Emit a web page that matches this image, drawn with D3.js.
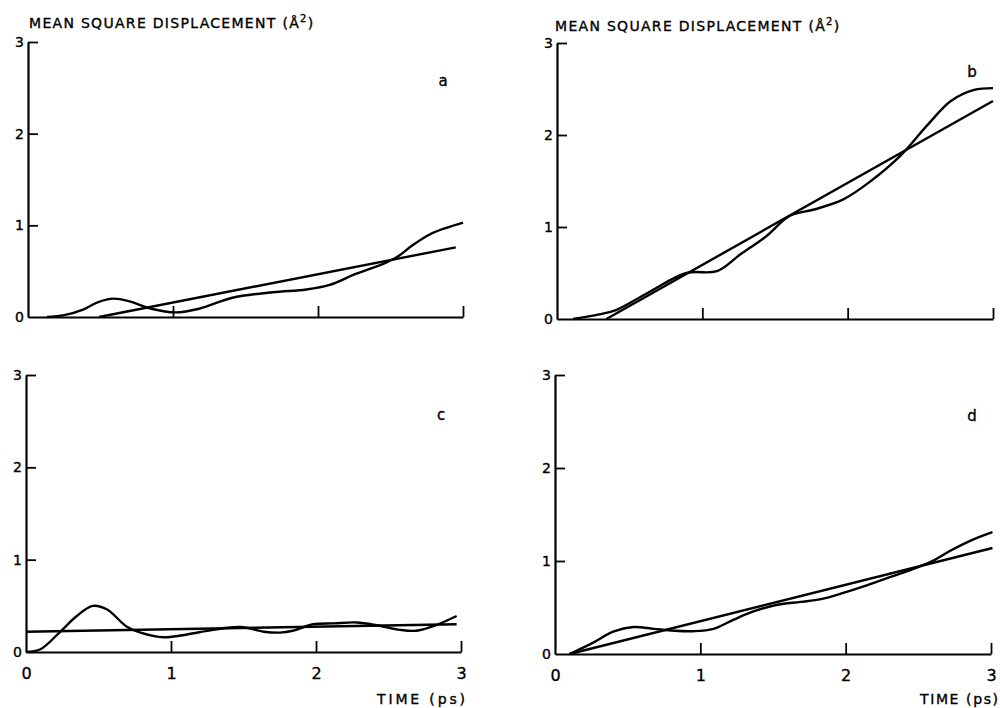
<!DOCTYPE html>
<html>
<head>
<meta charset="utf-8">
<script src="https://cdn.jsdelivr.net/npm/d3@7"></script>
<style>
  html, body { margin: 0; padding: 0; background: #fff; }
  svg { display: block; }
  text { font-family: "DejaVu Sans", sans-serif; fill: #000; stroke: #000; stroke-width: 0.35px; }
</style>
</head>
<body>
<svg id="chart" width="1000" height="708"></svg>
<script>
// ---- data (time in ps, MSD in Å^2) ----
const xTicks = [0, 1, 2, 3];
const yTicks = [0, 1, 2, 3];
const panelLabels = ["a", "b", "c", "d"];

const curveA = [[0.13,0],[0.25,0.02],[0.38,0.08],[0.48,0.16],[0.59,0.20],[0.70,0.17],[0.85,0.09],[1.02,0.05],[1.18,0.09],[1.41,0.21],[1.69,0.27],[1.92,0.30],[2.08,0.35],[2.26,0.47],[2.45,0.58],[2.55,0.66],[2.65,0.78],[2.77,0.90],[2.88,0.97],[3.0,1.03]];
const lineA  = [[0.49,0],[2.95,0.76]];

const curveB = [[0.11,0],[0.29,0.05],[0.41,0.10],[0.62,0.28],[0.89,0.50],[1.10,0.52],[1.26,0.70],[1.44,0.90],[1.60,1.12],[1.77,1.19],[1.97,1.30],[2.16,1.50],[2.36,1.77],[2.55,2.11],[2.71,2.37],[2.87,2.49],[3.0,2.51]];
const lineB  = [[0.34,0],[3.0,2.37]];

const curveC = [[0,0],[0.10,0.03],[0.23,0.21],[0.35,0.39],[0.46,0.50],[0.56,0.46],[0.69,0.28],[0.79,0.21],[0.95,0.16],[1.11,0.19],[1.29,0.24],[1.48,0.27],[1.64,0.22],[1.75,0.21],[1.84,0.23],[1.98,0.30],[2.12,0.31],[2.28,0.32],[2.42,0.29],[2.58,0.24],[2.69,0.23],[2.81,0.28],[2.97,0.39]];
const lineC  = [[0,0.22],[2.97,0.30]];

const curveD = [[0.10,0],[0.26,0.12],[0.40,0.24],[0.54,0.29],[0.68,0.27],[0.82,0.25],[0.95,0.245],[1.09,0.27],[1.23,0.37],[1.37,0.46],[1.53,0.53],[1.69,0.56],[1.83,0.59],[1.99,0.66],[2.15,0.74],[2.33,0.84],[2.49,0.93],[2.61,1.01],[2.72,1.11],[2.86,1.22],[3.01,1.31]];
const lineD  = [[0.10,0],[3.01,1.14]];

const curves = [curveA, curveB, curveC, curveD];
const lines  = [lineA, lineB, lineC, lineD];

// ---- layout ----
const panels = [
  { x0: 28,  x1: 463, y0: 317, y1: 42,  lab: [443, 81],  showX: false, title: [29, 28] },
  { x0: 557, x1: 993, y0: 319, y1: 43,  lab: [972, 72],  showX: false, title: [555, 31] },
  { x0: 26,  x1: 461, y0: 652, y1: 375, lab: [441, 415], showX: true,  time: [377, 704, 88] },
  { x0: 555, x1: 991, y0: 654, y1: 375, lab: [972, 416], showX: true,  time: [920, 704, 78] }
];

const svg = d3.select("#chart");

panels.forEach((p, i) => {
  const x = d3.scaleLinear().domain([0, 3]).range([p.x0, p.x1]);
  const y = d3.scaleLinear().domain([0, 3]).range([p.y0, p.y1]);
  const g = svg.append("g");

  // x axis
  const xa = g.append("g").attr("transform", `translate(0,${p.y0})`)
    .call(d3.axisBottom(x).tickValues(xTicks).tickSizeInner(-11).tickSizeOuter(0).tickPadding(16)
      .tickFormat(p.showX ? d3.format("d") : () => ""));
  xa.selectAll(".tick").filter(d => d === 0).select("line").remove();
  xa.select(".domain").attr("stroke", "#000").attr("stroke-width", 2.2);
  xa.selectAll(".tick line").attr("stroke", "#000").attr("stroke-width", 1.8);
  xa.selectAll(".tick text").attr("font-size", 16).attr("font-family", "DejaVu Sans");

  // y axis
  const ya = g.append("g").attr("transform", `translate(${p.x0},0)`)
    .call(d3.axisLeft(y).tickValues(yTicks).tickSizeInner(-10).tickSizeOuter(0).tickPadding(4)
      .tickFormat(d3.format("d")));
  ya.selectAll(".tick").filter(d => d === 0).select("line").remove();
  ya.select(".domain").attr("stroke", "#000").attr("stroke-width", 2.2);
  ya.selectAll(".tick line").attr("stroke", "#000").attr("stroke-width", 1.8);
  ya.selectAll(".tick text").attr("font-size", 14).attr("font-family", "DejaVu Sans");

  // data
  const gen = d3.line().x(d => x(d[0])).y(d => y(d[1]));
  g.append("path").datum(lines[i]).attr("d", gen)
    .attr("fill", "none").attr("stroke", "#000").attr("stroke-width", 2.4);
  g.append("path").datum(curves[i]).attr("d", gen.curve(d3.curveCatmullRom))
    .attr("fill", "none").attr("stroke", "#000").attr("stroke-width", 2.4);

  // panel label
  g.append("text").attr("x", p.lab[0]).attr("y", p.lab[1]).attr("text-anchor", "middle")
    .attr("dy", "0.35em").attr("font-size", 15).text(panelLabels[i]);

  if (p.title) {
    const t = g.append("text").attr("x", p.title[0]).attr("y", p.title[1])
      .attr("font-size", 14).attr("letter-spacing", "1.3px");
    t.append("tspan").text("MEAN SQUARE DISPLACEMENT (Å");
    t.append("tspan").attr("font-size", 10).attr("dy", -6).text("2");
    t.append("tspan").attr("dy", 6).text(")");
  }
  if (p.time) {
    g.append("text").attr("x", p.time[0]).attr("y", p.time[1]).attr("font-size", 14)
      .attr("textLength", p.time[2]).attr("lengthAdjust", "spacing").text("TIME (ps)");
  }
});
</script>
</body>
</html>
